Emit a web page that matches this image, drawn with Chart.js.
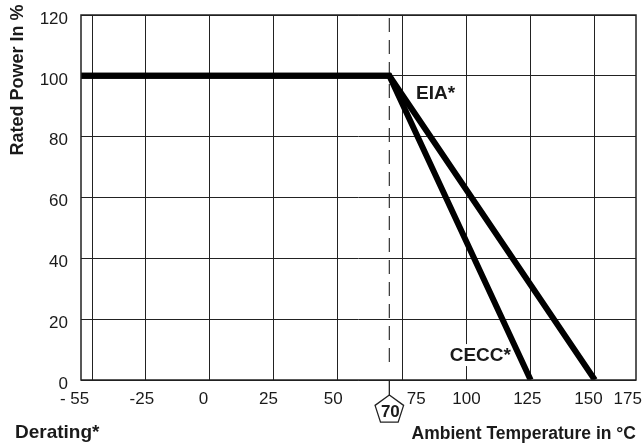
<!DOCTYPE html>
<html>
<head>
<meta charset="utf-8">
<script src="https://cdn.jsdelivr.net/npm/chart.js@4.4.1/dist/chart.umd.min.js"></script>
<style>
  html, body { margin: 0; padding: 0; background: #fff; }
</style>
</head>
<body>
<canvas id="derating-chart" width="644" height="445"></canvas>
<script>
/**************************************************************
                     DERATING CURVE DATA
***************************************************************/
let eiaTemps = [-50, 70, 150]
let eiaPower = [100, 100, 0]
let ceccTemps = [-50, 70, 125]
let ceccPower = [100, 100, 0]

// grid lines as drawn on the original sheet (first one is off the 25 step)
let gridTemps = [-45.5, -25, 0, 25, 50, 75, 100, 125, 150]
// tick labels and where they sit along the temperature axis
let tickLabels = ["- 55", "-25", "0", "25", "50", "75", "100", "125", "150", "175"]
let tickLabelTemps = [-52.5, -26.3, -2.3, 23, 48.2, 80.5, 100, 123.7, 147.5, 162.8]

let markerTemp = 70
let curveNames = ["EIA*", "CECC*"]
let curveNameTemps = [88, 105.4]
let curveNamePowers = [94.5, 8.2]

let textColor = '#1a1a1a'
let lineColor = '#222'
let fontFamily = '"Liberation Sans", Arial, Helvetica, sans-serif'

function toPoints(xs, ys) {
    return xs.map((x, i) => ({ x: x, y: ys[i] }))
}

/*** extra drawing: dashed 70 line, pentagon marker, curve names, titles, frame ***/
let deratingDrawings = {
    id: 'deratingDrawings',
    beforeDatasetsDraw(chart) {
        let ctx = chart.ctx
        let area = chart.chartArea
        let x = chart.scales.x
        let y = chart.scales.y
        let px = x.getPixelForValue(markerTemp)

        ctx.save()
        ctx.strokeStyle = '#333'
        ctx.lineWidth = 1.2
        ctx.setLineDash([14, 8])
        ctx.beginPath()
        ctx.moveTo(px, area.top + 3)
        ctx.lineTo(px, area.bottom - 17)
        ctx.stroke()
        ctx.setLineDash([])

        // curve names
        ctx.font = 'bold 19px ' + fontFamily
        ctx.textAlign = 'center'
        ctx.textBaseline = 'middle'
        curveNames.forEach((name, i) => {
            let cx = x.getPixelForValue(curveNameTemps[i])
            let cy = y.getPixelForValue(curveNamePowers[i])
            let w = ctx.measureText(name).width
            ctx.fillStyle = '#fff'
            ctx.fillRect(cx - w / 2 - 1, cy - 11, w + 2, 22)
            ctx.fillStyle = textColor
            ctx.fillText(name, cx, cy + 1)
        })
        ctx.restore()
    },
    afterDraw(chart) {
        let ctx = chart.ctx
        let area = chart.chartArea
        let x = chart.scales.x
        let px = x.getPixelForValue(markerTemp)

        ctx.save()
        // frame
        ctx.strokeStyle = lineColor
        ctx.lineWidth = 1.5
        ctx.strokeRect(area.left, area.top, area.right - area.left, area.bottom - area.top)

        // stem + pentagon with 70
        let r = 15
        let stem = 15
        let cy = area.bottom + stem + r
        ctx.lineWidth = 1.3
        ctx.beginPath()
        ctx.moveTo(px, area.bottom)
        ctx.lineTo(px, area.bottom + stem)
        ctx.stroke()
        ctx.beginPath()
        for (let k = 0; k < 5; k++) {
            let ang = -Math.PI / 2 + k * 2 * Math.PI / 5
            let vx = px + r * Math.cos(ang)
            let vy = cy + r * Math.sin(ang)
            if (k === 0) ctx.moveTo(vx, vy)
            else ctx.lineTo(vx, vy)
        }
        ctx.closePath()
        ctx.fillStyle = '#fff'
        ctx.fill()
        ctx.stroke()
        ctx.fillStyle = textColor
        ctx.font = 'bold 17px ' + fontFamily
        ctx.textAlign = 'center'
        ctx.textBaseline = 'middle'
        ctx.fillText(String(markerTemp), px + 1, cy + 2)

        // axis titles
        ctx.font = 'bold 17.5px ' + fontFamily
        ctx.textAlign = 'right'
        ctx.textBaseline = 'alphabetic'
        ctx.fillText('Ambient Temperature in \u00b0C', area.right, 439)

        ctx.font = 'bold 19px ' + fontFamily
        ctx.textAlign = 'left'
        ctx.fillText('Derating*', 15, 438)

        ctx.translate(18, 80)
        ctx.rotate(-Math.PI / 2)
        ctx.font = 'bold 18px ' + fontFamily
        ctx.textAlign = 'center'
        ctx.textBaseline = 'middle'
        ctx.fillText('Rated Power In %', 0, 0)
        ctx.restore()
    }
}

let deratingChartCanvas = document.getElementById("derating-chart").getContext('2d')
let deratingChartConfig = {
    type: 'scatter',
    data: {
        datasets: [{
            label: 'EIA',
            data: toPoints(eiaTemps, eiaPower),
            showLine: true,
            borderColor: '#000',
            borderWidth: 6,
            pointRadius: 0,
            xAxisID: 'x'
        }, {
            label: 'CECC',
            data: toPoints(ceccTemps, ceccPower),
            showLine: true,
            borderColor: '#000',
            borderWidth: 6,
            pointRadius: 0,
            xAxisID: 'x'
        }]
    },
    options: {
        responsive: false,
        animation: false,
        layout: { padding: { top: 15, right: 8, left: 0, bottom: 0 } },
        plugins: {
            legend: { display: false },
            tooltip: { enabled: false }
        },
        scales: {
            x: {
                type: 'linear',
                position: 'bottom',
                min: -50,
                max: 166,
                afterBuildTicks: (scale) => { scale.ticks = gridTemps.map(v => ({ value: v })) },
                afterFit: (scale) => { scale.height = 0; scale.paddingLeft = 0; scale.paddingRight = 0 },
                grid: { color: lineColor, lineWidth: 1, drawTicks: false },
                border: { display: false },
                ticks: { display: false }
            },
            xl: {
                type: 'linear',
                position: 'bottom',
                min: -50,
                max: 166,
                afterBuildTicks: (scale) => { scale.ticks = tickLabelTemps.map(v => ({ value: v })) },
                afterFit: (scale) => { scale.height = 65; scale.paddingLeft = 0; scale.paddingRight = 0 },
                grid: { display: false, drawTicks: false },
                border: { display: false },
                ticks: {
                    autoSkip: false,
                    maxRotation: 0,
                    padding: 9,
                    color: textColor,
                    font: { family: fontFamily, size: 17 },
                    callback: (value, index) => tickLabels[index]
                }
            },
            y: {
                min: 0,
                max: 120,
                afterFit: (scale) => { scale.width = 81; scale.paddingTop = 0; scale.paddingBottom = 0 },
                grid: { color: lineColor, lineWidth: 1, drawTicks: false },
                border: { display: false },
                ticks: {
                    stepSize: 20,
                    padding: 13,
                    labelOffset: 4,
                    color: textColor,
                    font: { family: fontFamily, size: 17 }
                }
            }
        }
    },
    plugins: [deratingDrawings]
}

/*** Create the derating chart ***/
let deratingChart = new Chart(deratingChartCanvas, deratingChartConfig)
</script>
</body>
</html>
